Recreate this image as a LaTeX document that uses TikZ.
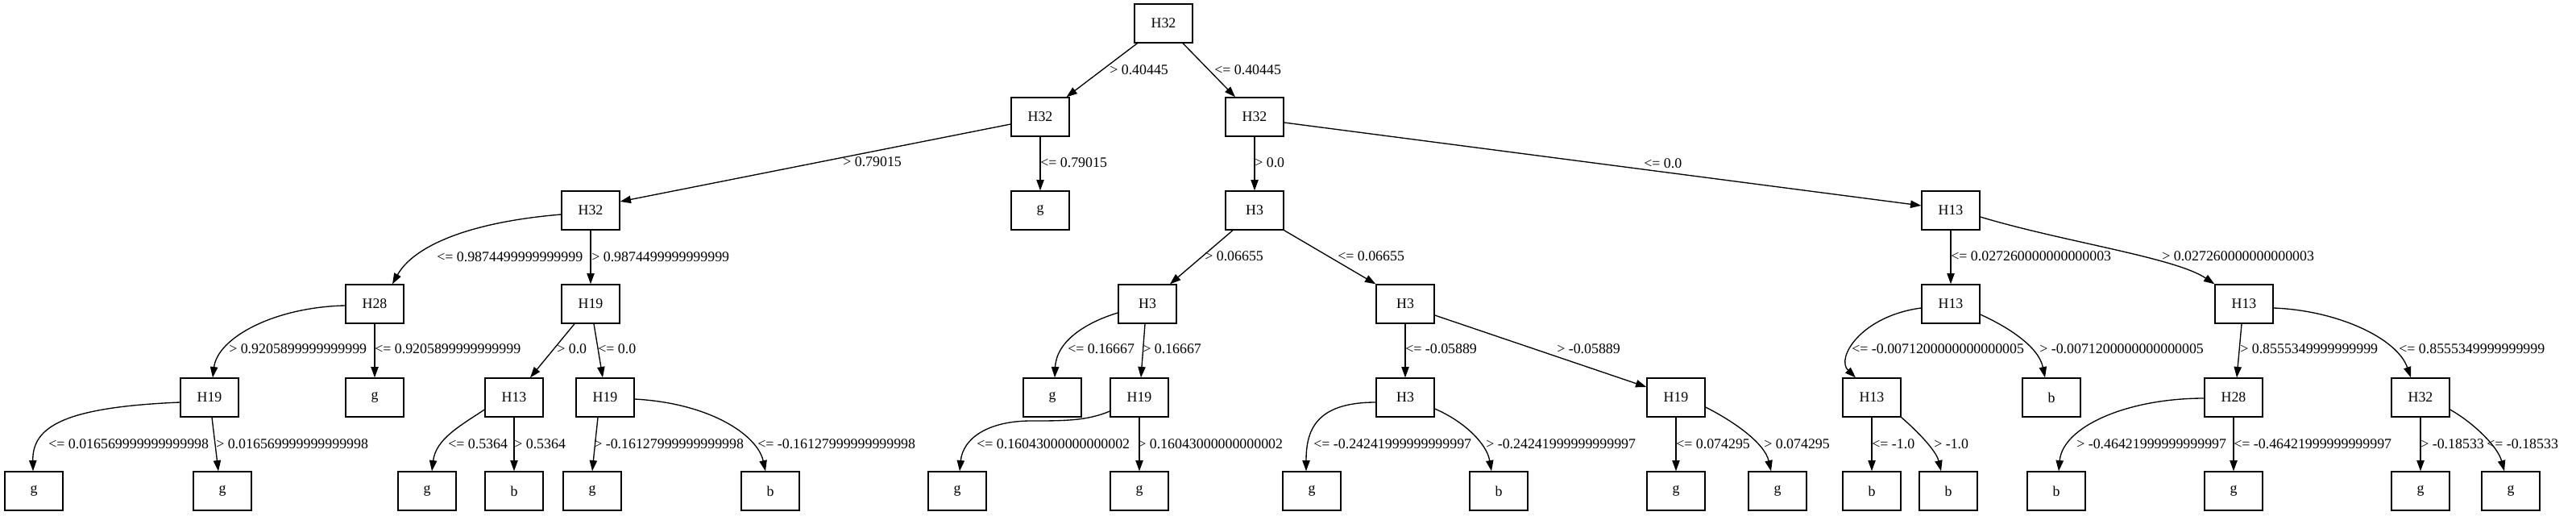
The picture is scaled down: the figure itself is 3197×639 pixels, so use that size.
\documentclass[tikz,border=0pt]{standalone}
\usepackage{fontspec}
\setmainfont{Liberation Serif}
\usetikzlibrary{arrows.meta,calc}
\newcommand\lblfont{\fontsize{13.4pt}{16pt}\selectfont}
\tikzset{
  box/.style={draw, line width=1pt, minimum width=54pt, minimum height=36pt, inner sep=0pt, font=\lblfont},
  lbl/.style={anchor=west, inner sep=0pt, font=\lblfont},
  edge/.style={line width=1pt, -{Triangle[length=10pt,width=7pt]}}
}
\begin{document}
\begin{tikzpicture}[x=0.75pt,y=-0.75pt]
\useasboundingbox (0,0) rectangle (3197,639);
% row 0-3
\node[box] (n0) at (1444,29) {H32};
\node[box] (n1) at (1291,145) {H32};
\node[box] (n2) at (1557,145) {H32};
\node[box] (n3) at (733,261) {H32};
\node[box] (n4) at (1291,261) {g};
\node[box] (n5) at (1557,261) {H3};
\node[box] (n6) at (2421,261) {H13};
\node[box] (n7) at (465,377) {H28};
\node[box] (n8) at (733,377) {H19};
\node[box] (n9) at (1424,377) {H3};
\node[box] (n10) at (1744,377) {H3};
\node[box] (n11) at (2421,377) {H13};
\node[box] (n12) at (2785,377) {H13};
% row 4
\node[box] (n13) at (260,493) {H19};
\node[box] (n14) at (465,493) {g};
\node[box] (n15) at (638,493) {H13};
\node[box] (n16) at (751,493) {H19};
\node[box] (n17) at (1306,493) {g};
\node[box] (n18) at (1414,493) {H19};
\node[box] (n19) at (1744,493) {H3};
\node[box] (n20) at (2080,493) {H19};
\node[box] (n21) at (2323,493) {H13};
\node[box] (n22) at (2546,493) {b};
\node[box] (n23) at (2772,493) {H28};
\node[box] (n24) at (3004,493) {H32};
% row 5
\node[box] (n25) at (42,609) {g};
\node[box] (n26) at (276,609) {g};
\node[box] (n27) at (530,609) {g};
\node[box] (n28) at (638,609) {b};
\node[box] (n29) at (735,609) {g};
\node[box] (n30) at (956,609) {b};
\node[box] (n31) at (1188,609) {g};
\node[box] (n32) at (1414,609) {g};
\node[box] (n33) at (1628,609) {g};
\node[box] (n34) at (1860,609) {b};
\node[box] (n35) at (2080,609) {g};
\node[box] (n36) at (2206,609) {g};
\node[box] (n37) at (2323,609) {b};
\node[box] (n38) at (2418,609) {b};
\node[box] (n39) at (2552,609) {b};
\node[box] (n40) at (2772,609) {g};
\node[box] (n41) at (3004,609) {g};
\node[box] (n42) at (3116,609) {g};

% edges
\draw[edge] (n0) -- (n1);
\draw[edge] (n0) -- (n2);
\draw[edge] ($(n1.west)+(0,9)$) -- ($(n3.east)+(0,-11)$);
\draw[edge] (n1) -- (n4);
\draw[edge] (n2) -- (n5);
\draw[edge] ($(n2.east)+(0,7)$) -- ($(n6.west)+(0,-6)$);
\draw[edge] ($(n3.west)+(0,5)$) .. controls +(-120,10) and +(25,-45) .. ($(n7.north)+(22,0)$);
\draw[edge] (n3) -- (n8);
\draw[edge] ($(n7.west)+(0,2)$) .. controls +(-89,2) and +(6,-49) .. ($(n13.north)+(4,0)$);
\draw[edge] (n7) -- (n14);
\draw[edge] ($(n8.south)+(-20,0)$) -- ($(n15.north)+(20,0)$);
\draw[edge] ($(n8.south)+(4,0)$) -- ($(n16.north)+(-3,0)$);
\draw[edge] ($(n13.west)+(0,6)$) .. controls +(-144,6) and +(-1,-55) .. ($(n25.north)+(-1,0)$);
\draw[edge] ($(n13.south)+(3,0)$) -- ($(n26.north)+(-5,0)$);
\draw[edge] ($(n15.west)+(0,15)$) .. controls +(-30,20) and +(5,-40) .. ($(n27.north)+(6,0)$);
\draw[edge] (n15) -- (n28);
\draw[edge] ($(n16.south)+(-9,0)$) -- (n29.north);
\draw[edge] ($(n16.east)+(0,2)$) .. controls +(93,5) and +(-10,-45) .. ($(n30.north)+(-6,0)$);
\draw[edge] ($(n5.south)+(-27,0)$) -- ($(n9.north)+(28,0)$);
\draw[edge] (n5.south east) -- (n10.north west);
\draw[edge] ($(n9.west)+(0,11)$) .. controls +(-40,12) and +(2,-45) .. ($(n17.north)+(3,0)$);
\draw[edge] ($(n9.south)+(-3,0)$) -- ($(n18.north)+(2,0)$);
\draw[edge] ($(n18.west)+(0,17)$) .. controls +(-28,12) and +(40,0) .. (1280,522) .. controls +(-55,0) and +(4,-40) .. ($(n31.north)+(3,0)$);
\draw[edge] (n18) -- (n32);
\draw[edge] (n10) -- (n19);
\draw[edge] ($(n10.east)+(0,14)$) -- ($(n20.west)+(0,-13)$);
\draw[edge] ($(n19.west)+(0,6)$) .. controls +(-75,0) and +(0,-50) .. ($(n33.north)+(-7,0)$);
\draw[edge] ($(n19.east)+(0,14)$) .. controls +(35,15) and +(-6,-35) .. ($(n34.north)+(-9,0)$);
\draw[edge] (n20) -- (n35);
\draw[edge] ($(n20.east)+(0,12)$) .. controls +(34,17) and +(-8,-35) .. ($(n36.north)+(-8,0)$);
\draw[edge] (n6) -- (n11);
\draw[edge] ($(n6.east)+(0,8)$) .. controls +(103,31) and +(-49,-33) .. (n12.north west);
\draw[edge] ($(n11.west)+(0,5)$) .. controls +(-75,10) and +(-25,-24) .. ($(n21.north)+(-20,0)$);
\draw[edge] ($(n11.east)+(0,13)$) .. controls +(33,15) and +(-8,-39) .. ($(n22.north)+(-8,0)$);
\draw[edge] ($(n12.south)+(-3,0)$) -- ($(n23.north)+(4,0)$);
\draw[edge] ($(n12.east)+(0,5)$) .. controls +(79,3) and +(-17,-49) .. ($(n24.north)+(-12,0)$);
\draw[edge] (n21) -- (n37);
\draw[edge] (n21.south east) .. controls +(21,18) and +(-6,-25) .. ($(n38.north)+(-9,0)$);
\draw[edge] ($(n23.west)+(0,1)$) .. controls +(-96,0) and +(5,-55) .. ($(n39.north)+(3,0)$);
\draw[edge] (n23) -- (n40);
\draw[edge] (n24) -- (n41);
\draw[edge] ($(n24.east)+(0,15)$) .. controls +(30,17) and +(-8,-30) .. ($(n42.north)+(-8,0)$);

% labels
\node[lbl] (l1) at (1377,87) {> 0.40445};
\node[lbl] (l2) at (1507,87) {<= 0.40445};
\node[lbl] (l3) at (1046,201) {> 0.79015};
\node[lbl] (l4) at (1291,202) {<= 0.79015};
\node[lbl] (l5) at (1557,202) {> 0.0};
\node[lbl] (l6) at (2040,203) {<= 0.0};
\node[lbl] (l7) at (542,319) {<= 0.9874499999999999};
\node[lbl] (l8) at (734,319) {> 0.9874499999999999};
\node[lbl] (l9) at (284,433) {> 0.9205899999999999};
\node[lbl] (l10) at (465,433) {<= 0.9205899999999999};
\node[lbl] (l11) at (691,433) {> 0.0};
\node[lbl] (l12) at (742,433) {<= 0.0};
\node[lbl] (l13) at (60,551) {<= 0.016569999999999998};
\node[lbl] (l14) at (268,551) {> 0.016569999999999998};
\node[lbl] (l15) at (556,551) {<= 0.5364};
\node[lbl] (l16) at (638,551) {> 0.5364};
\node[lbl] (l17) at (737,551) {> -0.16127999999999998};
\node[lbl] (l18) at (940,551) {<= -0.16127999999999998};
\node[lbl] (l19) at (1495,318) {> 0.06655};
\node[lbl] (l20) at (1660,318) {<= 0.06655};
\node[lbl] (l21) at (1325,433) {<= 0.16667};
\node[lbl] (l22) at (1418,433) {> 0.16667};
\node[lbl] (l23) at (1212,551) {<= 0.16043000000000002};
\node[lbl] (l24) at (1412,551) {> 0.16043000000000002};
\node[lbl] (l25) at (1744,433) {<= -0.05889};
\node[lbl] (l26) at (1932,433) {> -0.05889};
\node[lbl] (l27) at (1630,551) {<= -0.24241999999999997};
\node[lbl] (l28) at (1844,551) {> -0.24241999999999997};
\node[lbl] (l29) at (2080,551) {<= 0.074295};
\node[lbl] (l30) at (2189,551) {> 0.074295};
\node[lbl] (l31) at (2421,318) {<= 0.027260000000000003};
\node[lbl] (l32) at (2683,318) {> 0.027260000000000003};
\node[lbl] (l33) at (2298,433) {<= -0.0071200000000000005};
\node[lbl] (l34) at (2531,433) {> -0.0071200000000000005};
\node[lbl] (l35) at (2780,433) {> 0.8555349999999999};
\node[lbl] (l36) at (2977,433) {<= 0.8555349999999999};
\node[lbl] (l37) at (2323,551) {<= -1.0};
\node[lbl] (l38) at (2400,551) {> -1.0};
\node[lbl] (l39) at (2577,551) {> -0.46421999999999997};
\node[lbl] (l40) at (2772,551) {<= -0.46421999999999997};
\node[lbl] (l41) at (3004,551) {> -0.18533};
\node[lbl] (l42) at (3086,551) {<= -0.18533};
\end{tikzpicture}
\end{document}
